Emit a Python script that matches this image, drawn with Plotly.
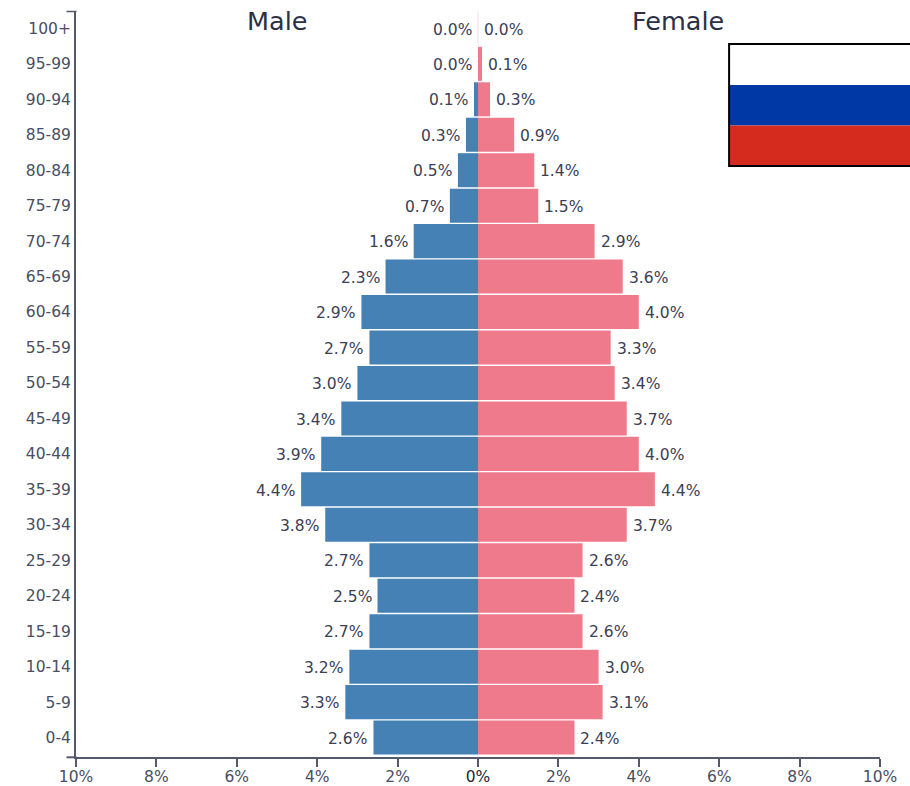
import plotly.graph_objects as go

age_groups = ["0-4", "5-9", "10-14", "15-19", "20-24", "25-29", "30-34", "35-39", "40-44", "45-49",
              "50-54", "55-59", "60-64", "65-69", "70-74", "75-79", "80-84", "85-89", "90-94", "95-99", "100+"]
male_pct = [2.6, 3.3, 3.2, 2.7, 2.5, 2.7, 3.8, 4.4, 3.9, 3.4, 3.0, 2.7, 2.9, 2.3, 1.6, 0.7, 0.5, 0.3, 0.1, 0.0, 0.0]
female_pct = [2.4, 3.1, 3.0, 2.6, 2.4, 2.6, 3.7, 4.4, 4.0, 3.7, 3.4, 3.3, 4.0, 3.6, 2.9, 1.5, 1.4, 0.9, 0.3, 0.1, 0.0]
x_ticks = [-10, -8, -6, -4, -2, 0, 2, 4, 6, 8, 10]
x_tick_labels = ["10%", "8%", "6%", "4%", "2%", '<span style="color:#23273a">0%</span>',
                 "2%", "4%", "6%", "8%", "10%"]

WIDTH, HEIGHT = 910, 786
LEFT, RIGHT, TOP, BOTTOM = 75.5, 880, 11, 757.2
INK = "#3b4055"
AXIS = "#55596c"
FONT = "DejaVu Sans"
TEXT_SIZE = 15.5


def px(x):
    return (x - LEFT) / (RIGHT - LEFT)


def py(y):
    return (BOTTOM - y) / (BOTTOM - TOP)


fig = go.Figure()
fig.add_bar(y=age_groups, x=[-v for v in male_pct], orientation="h", marker_color="#4581b5",
            marker_line_width=0, name="Male")
fig.add_bar(y=age_groups, x=female_pct, orientation="h", marker_color="#ef7a8c",
            marker_line_width=0, name="Female")

# Value labels: male to the left of its bar, female to the right, including the empty age bands
for age, m, f in zip(age_groups, male_pct, female_pct):
    fig.add_annotation(x=-m, y=age, text=f"{m:.1f}%", xanchor="right", xshift=-4, yshift=-1.2, showarrow=False,
                       font=dict(family=FONT, size=TEXT_SIZE, color=INK))
    fig.add_annotation(x=f, y=age, text=f"{f:.1f}%", xanchor="left", xshift=4, yshift=-1.2, showarrow=False,
                       font=dict(family=FONT, size=TEXT_SIZE, color=INK))

# Sex headings sit at the middle of each half of the axis
for label, x, nudge in (("Male", -5, -0.5), ("Female", 5, -1.5)):
    fig.add_annotation(x=x, y=1.0, xref="x", yref="paper", yanchor="middle", xshift=nudge, yshift=-9.5,
                       text=label, showarrow=False, font=dict(family=FONT, size=25.5, color="#2c3044"))

shapes = [
    # End caps of the age axis
    dict(type="line", xref="paper", yref="paper", x0=px(66), x1=px(76), y0=py(11.5), y1=py(11.5),
         line=dict(color=AXIS, width=1.5)),
    dict(type="line", xref="paper", yref="paper", x0=px(66), x1=px(76), y0=py(757.5), y1=py(757.5),
         line=dict(color=AXIS, width=2)),
    # Faint centre line through the empty top band
    dict(type="line", xref="x", yref="paper", x0=0, x1=0, y0=py(46), y1=py(11.5),
         line=dict(color="#f8dde1", width=1)),
    # Flag stripes and frame
    dict(type="rect", xref="paper", yref="paper", x0=px(729), x1=px(915), y0=py(44), y1=py(85),
         fillcolor="#ffffff", line_width=0, layer="above"),
    dict(type="rect", xref="paper", yref="paper", x0=px(729), x1=px(915), y0=py(85), y1=py(125.5),
         fillcolor="#0039a6", line_width=0, layer="above"),
    dict(type="rect", xref="paper", yref="paper", x0=px(729), x1=px(915), y0=py(125.5), y1=py(166),
         fillcolor="#d52b1e", line_width=0, layer="above"),
    dict(type="rect", xref="paper", yref="paper", x0=px(729), x1=px(915), y0=py(44), y1=py(166),
         line=dict(color="#000000", width=2), layer="above"),
]

fig.update_layout(
    width=WIDTH, height=HEIGHT, autosize=False,
    margin=dict(l=LEFT, r=WIDTH - RIGHT, t=TOP, b=HEIGHT - BOTTOM, pad=0),
    barmode="overlay", bargap=0.04, showlegend=False,
    paper_bgcolor="white", plot_bgcolor="white",
    font=dict(family=FONT, size=TEXT_SIZE, color=INK),
    shapes=shapes,
    xaxis=dict(range=[-10, 10], tickmode="array", tickvals=x_ticks, ticktext=x_tick_labels, automargin=False,
               ticks="outside", ticklen=8, tickwidth=1.5, tickcolor=AXIS, showgrid=False, zeroline=False,
               ticklabelstandoff=-4, showline=True, linecolor=AXIS, linewidth=2,
               tickfont=dict(family=FONT, size=TEXT_SIZE, color="#4a4e62")),
    yaxis=dict(type="category", categoryorder="array", categoryarray=age_groups, range=[-0.548, 20.49], ticks="",
               showgrid=False, zeroline=False, showline=True, linecolor=AXIS, linewidth=2, automargin=False,
               tickfont=dict(family=FONT, size=TEXT_SIZE, color="#4a4e62")),
)

fig.write_html("out.html")
